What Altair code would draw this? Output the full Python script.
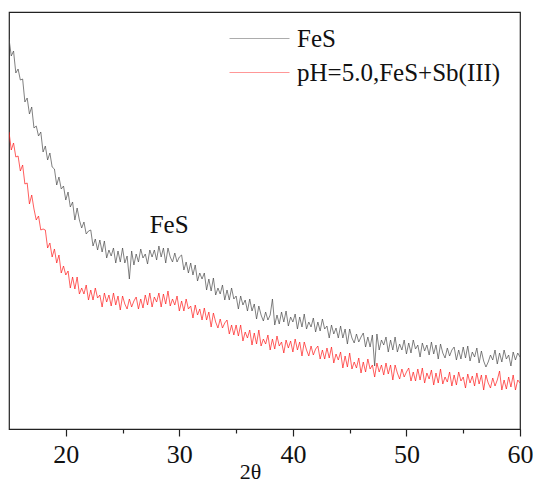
import altair as alt
import pandas as pd

# Intensity (arbitrary units), 2θ from 15 to 60 in 0.2° steps
fes = [
    390, 373, 378, 356, 360,
    349, 350, 327, 331, 315,
    322, 301, 303, 293, 297,
    277, 283, 269, 276, 262,
    260, 244, 252, 240, 243,
    229, 237, 222, 227, 209,
    221, 209, 201, 207, 195,
    198, 199, 183, 190, 179,
    189, 177, 188, 171, 179,
    173, 181, 166, 178, 167,
    181, 166, 173, 150, 178,
    164, 175, 167, 180, 171,
    175, 165, 179, 172, 179,
    169, 183, 172, 181, 166,
    181, 172, 167, 176, 167,
    172, 174, 159, 167, 156,
    166, 154, 164, 148, 156,
    150, 156, 139, 150, 138,
    151, 134, 141, 135, 144,
    129, 139, 129, 141, 130,
    133, 120, 133, 124, 129,
    118, 130, 118, 125, 110,
    123, 114, 108, 117, 109,
    114, 130, 104, 114, 105,
    117, 107, 118, 103, 112,
    107, 115, 100, 112, 102,
    115, 100, 107, 102, 111,
    97, 107, 98, 110, 100,
    103, 91, 104, 95, 101,
    91, 103, 91, 100, 85,
    100, 91, 86, 95, 87,
    92, 96, 82, 92, 82,
    94, 63, 95, 79, 89,
    84, 92, 77, 89, 79,
    92, 77, 85, 79, 89,
    75, 86, 76, 89, 80,
    84, 72, 86, 78, 84,
    74, 87, 75, 84, 70,
    85, 76, 71, 81, 73,
    79, 82, 69, 79, 70,
    82, 71, 83, 68, 77,
    72, 81, 66, 78, 68,
    62, 67, 74, 69, 79,
    65, 76, 67, 79, 70,
    74, 63, 77, 69, 76,
    72,
]

fes_sb = [
    297, 279, 286, 272, 273,
    258, 264, 245, 246, 225,
    234, 220, 209, 213, 199,
    200, 199, 181, 186, 172,
    180, 166, 174, 156, 163,
    154, 158, 141, 152, 140,
    152, 135, 141, 135, 144,
    129, 139, 129, 141, 131,
    134, 122, 136, 127, 134,
    123, 136, 124, 133, 119,
    133, 125, 120, 130, 122,
    128, 132, 120, 130, 121,
    134, 124, 136, 122, 132,
    127, 136, 122, 135, 125,
    138, 123, 130, 124, 133,
    118, 128, 118, 130, 120,
    123, 111, 124, 114, 120,
    109, 121, 109, 117, 102,
    116, 107, 101, 110, 101,
    106, 109, 95, 104, 94,
    104, 93, 104, 88, 97,
    91, 99, 84, 96, 85,
    99, 83, 90, 85, 94,
    79, 90, 80, 93, 83,
    87, 76, 89, 81, 88,
    77, 90, 79, 87, 73,
    87, 79, 73, 83, 74,
    80, 83, 70, 79, 70,
    81, 71, 82, 66, 75,
    69, 77, 61, 73, 62,
    76, 60, 67, 61, 71,
    56, 67, 57, 70, 60,
    64, 52, 66, 57, 64,
    54, 66, 55, 64, 49,
    64, 56, 50, 60, 52,
    57, 61, 48, 57, 48,
    60, 49, 61, 46, 56,
    50, 59, 44, 56, 46,
    60, 45, 52, 47, 57,
    43, 54, 44, 57, 48,
    52, 41, 55, 46, 53,
    43, 56, 45, 54, 39,
    54, 46, 41, 51, 43,
    49, 58, 39, 49, 40,
    52, 42, 54, 39, 49,
    46,
]

series_names = ["FeS", "pH=5.0,FeS+Sb(III)"]
series_colors = ["#4a4a4a", "#ff1a1a"]
major_ticks = [20, 30, 40, 50, 60]
minor_ticks = [25, 35, 45, 55]
ann_x = [29.1]
ann_y = [196]
ann_label = ["FeS"]

rows = []
for name, vals in zip(series_names, [fes, fes_sb]):
    for i, v in enumerate(vals):
        rows.append({"two_theta": round(15 + 0.2 * i, 1), "intensity": v, "series": name})
df = pd.DataFrame(rows)
ann = pd.DataFrame({"x": ann_x, "y": ann_y, "label": ann_label})

FONT = "Times New Roman"
xscale = alt.Scale(domain=[15, 60], nice=False, zero=False)
yscale = alt.Scale(domain=[0, 417], nice=False, zero=False)

lines = alt.Chart(df).mark_line(strokeWidth=0.7, clip=True).encode(
    x=alt.X("two_theta:Q", scale=xscale, axis=alt.Axis(
        values=major_ticks, tickSize=7, labelFlush=False, title="2θ",
        labelFont=FONT, labelFontSize=26, titleFont=FONT, titleFontSize=22,
        titleX=241, titleY=49, titleBaseline="alphabetic", titleAlign="center",
        orient="bottom")),
    y=alt.Y("intensity:Q", scale=yscale, axis=None),
    color=alt.Color("series:N", sort=series_names,
                    scale=alt.Scale(domain=series_names, range=series_colors),
                    legend=alt.Legend(orient="none", legendX=238, legendY=14, title=None,
                                      symbolType="M-3,0H3", symbolSize=400,
                                      symbolStrokeWidth=1, symbolOpacity=0.45,
                                      labelFont=FONT, labelFontSize=25,
                                      labelOffset=25, rowPadding=8, padding=0,
                                      labelLimit=400)),
)

text = alt.Chart(ann).mark_text(font=FONT, fontSize=25, align="center",
                                baseline="alphabetic", color="#111").encode(
    x=alt.X("x:Q", scale=xscale, axis=alt.Axis(
        values=minor_ticks, tickSize=4, labels=False, domain=False,
        title=None, orient="bottom")),
    y=alt.Y("y:Q", scale=yscale, axis=None),
    text="label:N",
)

chart = alt.layer(lines, text).resolve_axis(x="independent").properties(
    width=511, height=417,
    padding={"left": 1, "top": 4, "right": 0, "bottom": 0},
).configure_view(
    stroke="#222", strokeWidth=1.2
).configure_axis(
    grid=False, tickColor="#222", tickWidth=1.2, domainColor="#222", domainWidth=1.2,
    labelColor="#111", labelPadding=5,
    titleFontWeight="normal", titleColor="#111",
).configure_legend(
    labelColor="#111",
)

chart.save("out.html", embed_options={"renderer": "svg", "actions": False})
